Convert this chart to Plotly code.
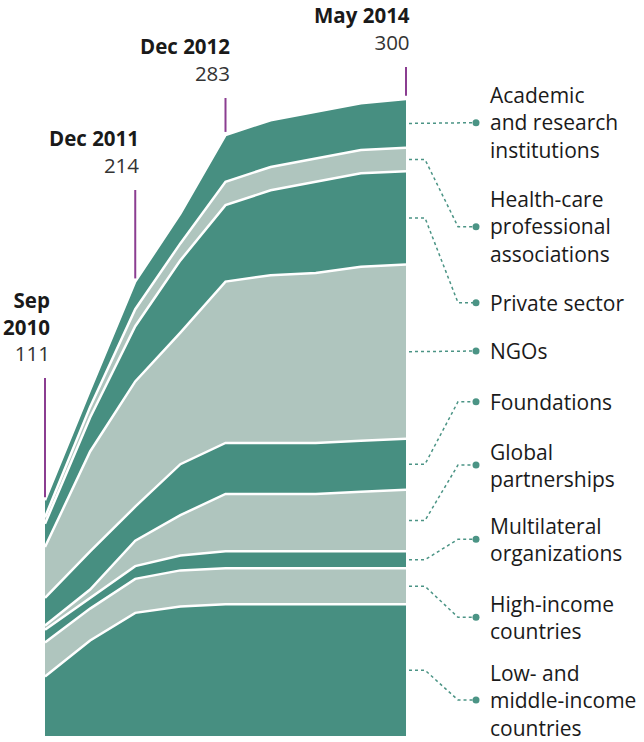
import plotly.graph_objects as go

# x = reporting rounds, evenly spaced in the original graphic
x_idx = [0, 1, 2, 3, 4, 5, 6, 7, 8]

# partners by constituency, bottom layer first
low_middle = [28, 45, 58, 61, 62, 62, 62, 62, 62]
high_income = [16, 15, 16, 17, 17, 17, 17, 17, 17]
multilateral = [6, 5, 6, 7, 8, 8, 8, 8, 8]
global_part = [2, 4, 12, 19, 27, 27, 27, 28, 29]
foundations = [13, 18, 16, 24, 24, 24, 24, 24, 24]
ngos = [24, 47, 59, 62, 76, 79, 80, 82, 82]
private = [11, 16, 26, 34, 36, 40, 43, 44, 44]
health_care = [3, 5, 8, 8, 11, 11, 11, 11, 11]
academic = [8, 8, 13, 14, 22, 22, 22, 22, 23]

series = [low_middle, high_income, multilateral, global_part, foundations,
          ngos, private, health_care, academic]
labels = ["Low- and<br>middle-income<br>countries",
          "High-income<br>countries",
          "Multilateral<br>organizations",
          "Global<br>partnerships",
          "Foundations",
          "NGOs",
          "Private sector",
          "Health-care<br>professional<br>associations",
          "Academic<br>and research<br>institutions"]

# milestones marked on top
milestone_idx = [0, 2, 4, 8]
milestone_names = ["Sep<br>2010", "Dec 2011", "Dec 2012", "May 2014"]
milestone_totals = [111, 214, 283, 300]

DARK = "#478f81"
LIGHT = "#afc5be"
DOT = "#4b9485"
PURPLE = "#8b3d91"
TXT = "#1a1a1a"

W, H = 644, 742
X0_PX, X8_PX = 45, 406
Y0_PX, Y300_PX = 736, 99
sx = (X8_PX - X0_PX) / 8.0
sy = (Y0_PX - Y300_PX) / 300.0


def px_x(p):
    return (p - X0_PX) / sx


def px_y(p):
    return (Y0_PX - p) / sy


fig = go.Figure()

for i, vals in enumerate(series):
    fig.add_trace(go.Scatter(
        x=x_idx, y=vals, stackgroup="one", mode="lines",
        line=dict(color="white", width=2.5),
        fillcolor=DARK if i % 2 == 0 else LIGHT,
        hoverinfo="skip", showlegend=False))

# right-hand labels with dotted connectors
label_px = [700, 617.3, 539.3, 465, 401.7, 351, 302.7, 226.7, 122.7]
cum = 0
dot_x, dot_y = [], []
for i, vals in enumerate(series):
    last = vals[-1]
    mid = cum + last / 2.0
    cum += last
    ye = px_y(label_px[i])
    fig.add_trace(go.Scatter(
        x=[px_x(409), px_x(425), px_x(458), px_x(476)],
        y=[mid, mid, ye, ye], mode="lines",
        line=dict(color=DOT, width=1.5, dash="dot"),
        hoverinfo="skip", showlegend=False))
    dot_x.append(px_x(476))
    dot_y.append(ye)
    fig.add_annotation(x=px_x(489), y=ye, text=labels[i], showarrow=False,
                       xanchor="left", yanchor="middle", align="left",
                       borderpad=0, font=dict(size=21, color=TXT))

fig.add_trace(go.Scatter(x=dot_x, y=dot_y, mode="markers",
                         marker=dict(color=DOT, size=7),
                         hoverinfo="skip", showlegend=False))

# milestone ticks and labels
tick_tops_px = [378, 190, 98, 67]
for i, idx in enumerate(milestone_idx):
    top = px_y(tick_tops_px[i])
    fig.add_shape(type="line", x0=idx, x1=idx,
                  y0=milestone_totals[i] + 1.5, y1=top,
                  line=dict(color=PURPLE, width=2))
    fig.add_annotation(
        x=idx, y=top, showarrow=False, xanchor="right", yanchor="bottom",
        align="right", xshift=7 if i == 0 else 6, yshift=9,
        text="<b>" + milestone_names[i].replace("<br>", "</b><br><b>") + "</b><br>"
             + "<span style='color:#333333'>" + str(milestone_totals[i]) + "</span>",
        font=dict(size=20.5, color=TXT))

fig.update_layout(
    width=W, height=H,
    margin=dict(l=0, r=0, t=0, b=0),
    paper_bgcolor="white", plot_bgcolor="white",
    font=dict(family="Open Sans", size=20, color=TXT),
    xaxis=dict(range=[-X0_PX / sx, (W - X0_PX) / sx], visible=False, fixedrange=True),
    yaxis=dict(range=[-(H - Y0_PX) / sy, Y0_PX / sy], visible=False, fixedrange=True),
)

fig.write_html("out.html", config={"displayModeBar": False},
               post_script="document.body.style.margin = '0px';")
